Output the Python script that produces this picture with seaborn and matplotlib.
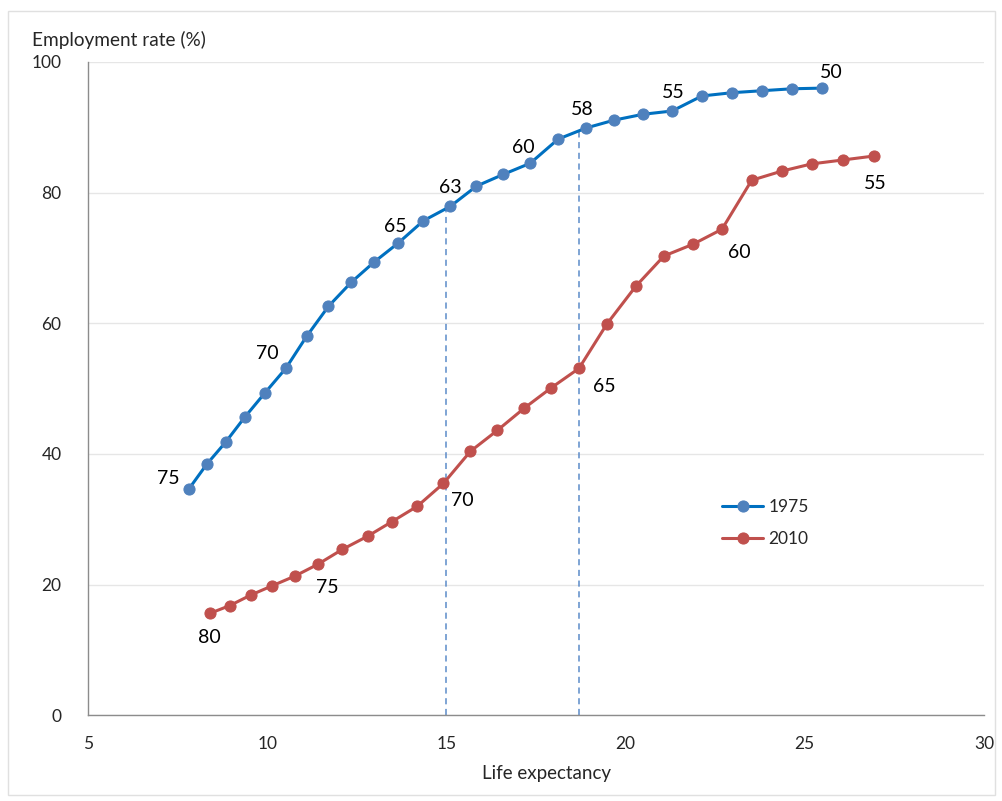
import numpy as np
import pandas as pd
import seaborn as sns
import matplotlib.pyplot as plt
from matplotlib.patches import Rectangle

# life expectancy (x) and employment rate (y), one point per age
ages_1975 = list(range(75, 49, -1))
life_1975 = [7.81, 8.31, 8.84, 9.37, 9.93, 10.52, 11.10, 11.71, 12.35, 12.99, 13.66, 14.36, 15.11,
             15.84, 16.59, 17.34, 18.12, 18.90, 19.68, 20.49, 21.30, 22.13, 22.97, 23.80, 24.64, 25.47]
emp_1975 = [34.6, 38.4, 41.8, 45.6, 49.3, 53.1, 58.0, 62.6, 66.3, 69.4, 72.3, 75.7, 77.9,
            81.0, 82.8, 84.5, 88.2, 89.9, 91.1, 92.0, 92.5, 94.8, 95.3, 95.6, 95.9, 96.0]

ages_2010 = list(range(80, 54, -1))
life_2010 = [8.40, 8.96, 9.54, 10.13, 10.77, 11.41, 12.10, 12.80, 13.47, 14.19, 14.92, 15.67, 16.42,
             17.17, 17.92, 18.70, 19.48, 20.29, 21.07, 21.88, 22.69, 23.52, 24.36, 25.19, 26.06, 26.92]
emp_2010 = [15.6, 16.8, 18.4, 19.8, 21.3, 23.1, 25.4, 27.4, 29.6, 32.0, 35.5, 40.4, 43.6,
            47.0, 50.1, 53.1, 59.9, 65.7, 70.3, 72.1, 74.4, 81.9, 83.3, 84.4, 85.0, 85.6]

labels_1975 = [75, 70, 65, 63, 60, 58, 55, 50]
labels_2010 = [80, 75, 70, 65, 60, 55]

# dashed guide lines: x position and top
guide_x = [15.0, 18.7]
guide_top = [77.9, 89.9]

df75 = pd.DataFrame({'age': ages_1975, 'life': life_1975, 'emp': emp_1975})
df10 = pd.DataFrame({'age': ages_2010, 'life': life_2010, 'emp': emp_2010})

sns.set_style('white')
plt.rcParams['font.family'] = ['Lato', 'DejaVu Sans']

fig = plt.figure(figsize=(10.03, 8.01), dpi=100)
ax = fig.add_axes([0.0877, 0.107, 0.8933, 0.8156])

blue_line, blue_mark = '#0070C0', '#4F81BD'
red = '#C0504D'

sns.lineplot(data=df75, x='life', y='emp', sort=False, ax=ax, color=blue_line, lw=2.2,
             marker='o', markersize=8, markerfacecolor=blue_mark, markeredgecolor=blue_mark,
             label='1975')
sns.lineplot(data=df10, x='life', y='emp', sort=False, ax=ax, color=red, lw=2.2,
             marker='o', markersize=8, markerfacecolor=red, markeredgecolor=red,
             label='2010')

for gx, gt in zip(guide_x, guide_top):
    ax.plot([gx, gx], [0, gt], ls=(0, (4, 3)), color='#5B8BC9', lw=1.1, zorder=1)

# label offsets in pixels
off75 = {75: (-20, 11), 70: (-18, 15), 65: (-3, 16), 63: (0, 19), 60: (-7, 16), 58: (-4, 18),
         55: (1, 18), 50: (10, 16)}
off10 = {80: (0, -24), 75: (10, -23), 70: (19, -17), 65: (25, -18), 60: (17, -23), 55: (2, -27)}

for a in labels_1975:
    dx, dy = off75[a]
    i = ages_1975.index(a)
    ax.annotate(str(a), (life_1975[i], emp_1975[i]), xytext=(dx, dy), textcoords='offset pixels',
                ha='center', va='center', fontsize=14, color='black')
for a in labels_2010:
    dx, dy = off10[a]
    i = ages_2010.index(a)
    ax.annotate(str(a), (life_2010[i], emp_2010[i]), xytext=(dx, dy), textcoords='offset pixels',
                ha='center', va='center', fontsize=14, color='black')

ax.set_xlim(5, 30)
ax.set_ylim(0, 100)
ax.set_xticks(range(5, 31, 5))
ax.set_yticks(range(0, 101, 20))
ax.yaxis.grid(True, color='#E6E6E6', lw=1)
ax.set_axisbelow(True)
for s in ['top', 'right']:
    ax.spines[s].set_visible(False)
for s in ['left', 'bottom']:
    ax.spines[s].set_color('#8C8C8C')
    ax.spines[s].set_linewidth(1)
ax.tick_params(axis='both', direction='out', length=5, color='#8C8C8C', labelsize=12.5)
ax.tick_params(axis='y', pad=14)
ax.tick_params(axis='x', pad=10)
ax.set_xlabel('')
ax.set_ylabel('')

fig.text(547 / 1003, 1 - 773 / 801, 'Life expectancy', ha='center', va='center', fontsize=13.5)
fig.text(32 / 1003, 1 - 40 / 801, 'Employment rate (%)', ha='left', va='center', fontsize=13.7)

leg = ax.legend(loc='upper left', bbox_to_anchor=(0.69, 0.355), frameon=False, fontsize=12.5,
                handlelength=2.4, labelspacing=0.9, handletextpad=0.3)

fig.patches.append(Rectangle((8 / 1003, 6 / 801), 987 / 1003, 784 / 801, transform=fig.transFigure,
                             fill=False, edgecolor='#E0E0E0', lw=1))

plt.savefig('out.png', dpi=100)
